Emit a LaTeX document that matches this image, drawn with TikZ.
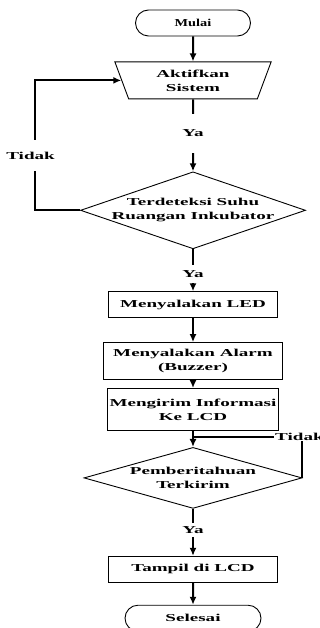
\documentclass[tikz,border=0pt]{standalone}
\usepackage{fontspec}
\setmainfont{Liberation Serif}[FakeStretch=1.8]
\newfontfamily\narrowfont{Liberation Serif}[FakeStretch=1.35]
\usetikzlibrary{shapes, arrows.meta, positioning, calc}

\begin{document}
\begin{tikzpicture}[
      x=1pt, y=1pt,
      font=\fontsize{10.6}{14}\selectfont\bfseries,
      terminal/.style={rounded rectangle, draw, line width=0.9pt,
        minimum width=115pt, minimum height=26pt, inner sep=0pt},
      manual/.style={trapezium, trapezium left angle=110, trapezium right angle=110,
        trapezium stretches=true, draw, line width=0.9pt,
        minimum width=157pt, minimum height=37pt, align=center, inner sep=0pt},
      box/.style={rectangle, draw, line width=0.9pt,
        minimum height=26pt, align=center, inner sep=0pt},
      decision/.style={diamond, draw, line width=0.9pt, align=center, inner sep=-1pt},
      arrow/.style={line width=2pt, -{Latex[length=8pt,width=7pt]}},
      line/.style={line width=2pt},
      lbl/.style={fill=white, inner sep=1pt}
    ]
      \useasboundingbox (0,0) rectangle (320,-628);

      % Start
      \node[terminal, font=\fontsize{10.6}{14}\narrowfont\bfseries] (mulai) at (193,-23) {Mulai};

      % Detection part
      \node[manual, below=25pt of mulai] (aktif) {Aktifkan\\Sistem};
      \node[decision, aspect=2.92, minimum width=225pt, minimum height=77pt,
        below=72pt of aktif] (suhu) {Terdeteksi Suhu\\Ruangan Inkubator};

      % Actions
      \node[box, minimum width=169pt, below=42pt of suhu] (led) {Menyalakan LED};
      \node[box, minimum width=179pt, minimum height=37pt, below=24pt of led] (alarm)
        {Menyalakan Alarm\\(Buzzer)};
      \node[box, minimum width=171pt, minimum height=42pt, below=8pt of alarm] (info)
        {Mengirim Informasi\\Ke LCD};
      \node[decision, aspect=3.57, minimum width=218pt, minimum height=61pt,
        below=16pt of info] (kirim) {Pemberitahuan\\Terkirim};
      \node[box, minimum width=169pt, below=47pt of kirim] (tampil) {Tampil di LCD};

      % End
      \node[terminal, minimum width=136pt, below=22pt of tampil] (selesai) {Selesai};

      % Draw arrows
      \coordinate (loopA) at ($(suhu.west)+(-45,0)$);
      \draw[arrow] (mulai) -- (aktif);
      \draw[arrow] (aktif) -- node[lbl, minimum height=39pt, pos=0.47] {Ya} (suhu);
      \draw[arrow] (suhu.west) -- (loopA)
        -- node[lbl, minimum height=31pt, pos=0.42, xshift=-4.5pt] {Tidak} (loopA |- aktif.west)
        -- (aktif.west);
      \draw[arrow] (suhu) -- node[lbl, minimum height=18pt, pos=0.58] {Ya} (led);
      \draw[arrow] (led) -- (alarm);
      \draw[arrow] (alarm) -- (info);
      \draw[arrow] (info) -- (kirim);
      \draw[line] (kirim.east) |- node[lbl, xshift=-3pt] {Tidak} ($(info.south)!0.35!(kirim.north)$);
      \draw[arrow] (kirim) -- node[lbl, minimum height=14pt, pos=0.46] {Ya} (tampil);
      \draw[arrow] (tampil) -- (selesai);
    \end{tikzpicture}
\end{document}
